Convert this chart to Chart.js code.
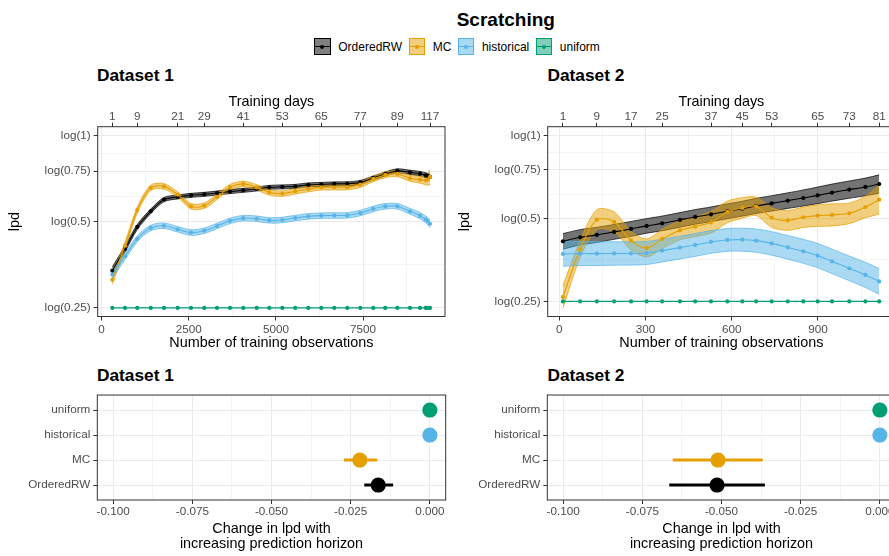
<!DOCTYPE html>
<html>
<head>
<meta charset="utf-8">
<script src="https://cdn.jsdelivr.net/npm/chart.js@4.4.1/dist/chart.umd.min.js"></script>
<style>
  html, body { margin: 0; padding: 0; background: #fff; }
  body { width: 889px; height: 556px; overflow: hidden; position: relative;
         font-family: "Liberation Sans", Arial, Helvetica, sans-serif; }
  canvas { position: absolute; }
  .txt { position: absolute; white-space: nowrap; color: #000; }
  .main { font-weight: bold; font-size: 19px; line-height: 22px; }
  .sub { font-weight: bold; font-size: 17.3px; line-height: 20px; }
  #legend { position: absolute; left: 314.3px; top: 38.3px; height: 16.7px;
            display: flex; align-items: center; font-size: 12px; color: #000; }
  .key { position: relative; box-sizing: border-box; width: 16.4px; height: 16.7px;
         border: 1px solid; margin-right: 7.6px; }
  .key .ln { position: absolute; left: 0; right: 0; top: 6.85px; height: 1px; }
  .key .pt { position: absolute; left: 5.2px; top: 5.35px; width: 4px; height: 4px; border-radius: 50%; }
  .lab { margin-right: 6.6px; }
</style>
</head>
<body>
<div class="txt main" style="left:456.7px; top:9px;">Scratching</div>
<div id="legend"></div>

<div class="txt sub" style="left:97px; top:65px;">Dataset 1</div>
<div class="txt sub" style="left:547.5px; top:65px;">Dataset 2</div>
<div class="txt sub" style="left:97px; top:365px;">Dataset 1</div>
<div class="txt sub" style="left:547.5px; top:365px;">Dataset 2</div>

<canvas id="top1" width="456" height="274" style="left:0px; top:86px;"></canvas>
<canvas id="top2" width="456" height="274" style="left:450px; top:86px;"></canvas>
<canvas id="bot1" width="456" height="171" style="left:0px; top:385px;"></canvas>
<canvas id="bot2" width="456" height="171" style="left:450px; top:385px;"></canvas>

<script>
// ---- series names and colours ----
const seriesNames = ['OrderedRW', 'MC', 'historical', 'uniform'];
const seriesColors = ['#000000', '#E69F00', '#56B4E9', '#009E73'];

// ---- Dataset 1: lpd by number of training observations ----
const obs1 = [310, 674, 1026, 1411, 1792, 2185, 2566, 2947, 3311, 3684, 4065, 4450, 4811, 5184,
              5556, 5929, 6302, 6674, 7047, 7420, 7792, 8136, 8481, 8845, 9131, 9295, 9352, 9418];
const dayTickIdx1 = [0, 2, 5, 7, 10, 13, 16, 19, 22, 27];
const dayTickLabels1 = ['1', '9', '21', '29', '41', '53', '65', '77', '89', '117'];

const ordered1 = [-1.087, -0.912, -0.736, -0.610, -0.516, -0.495, -0.482, -0.474, -0.463, -0.452,
                  -0.442, -0.431, -0.418, -0.414, -0.410, -0.398, -0.394, -0.390, -0.389, -0.378,
                  -0.342, -0.310, -0.286, -0.297, -0.308, -0.321, -0.326, -0.334];
const ordered1Ci = [0.030, 0.024, 0.020, 0.018, 0.017, 0.016, 0.016, 0.016, 0.016, 0.016,
                    0.016, 0.016, 0.016, 0.016, 0.016, 0.016, 0.016, 0.016, 0.016, 0.016,
                    0.016, 0.016, 0.017, 0.017, 0.018, 0.020, 0.021, 0.022];
const mc1 = [-1.160, -0.886, -0.600, -0.422, -0.410, -0.476, -0.570, -0.565, -0.494, -0.416,
             -0.390, -0.418, -0.458, -0.468, -0.450, -0.431, -0.418, -0.417, -0.416, -0.396,
             -0.350, -0.318, -0.310, -0.345, -0.356, -0.361, -0.356, -0.334];
const mc1Ci = [0.036, 0.028, 0.024, 0.022, 0.022, 0.022, 0.022, 0.022, 0.022, 0.022,
               0.022, 0.022, 0.022, 0.022, 0.022, 0.022, 0.022, 0.022, 0.022, 0.022,
               0.022, 0.022, 0.022, 0.024, 0.028, 0.036, 0.046, 0.060];
const hist1 = [-1.119, -0.972, -0.831, -0.744, -0.726, -0.755, -0.781, -0.766, -0.728, -0.687,
               -0.665, -0.670, -0.683, -0.680, -0.664, -0.651, -0.645, -0.644, -0.643, -0.624,
               -0.591, -0.570, -0.570, -0.610, -0.645, -0.675, -0.688, -0.710];
const hist1Ci = [0.030, 0.026, 0.023, 0.022, 0.022, 0.022, 0.022, 0.022, 0.022, 0.022,
                 0.022, 0.022, 0.022, 0.022, 0.022, 0.022, 0.022, 0.022, 0.022, 0.022,
                 0.022, 0.022, 0.022, 0.023, 0.025, 0.027, 0.029, 0.031];
const uniform1 = [-1.386, -1.386, -1.386, -1.386, -1.386, -1.386, -1.386, -1.386, -1.386, -1.386,
                  -1.386, -1.386, -1.386, -1.386, -1.386, -1.386, -1.386, -1.386, -1.386, -1.386,
                  -1.386, -1.386, -1.386, -1.386, -1.386, -1.386, -1.386, -1.386];

// ---- Dataset 2 ----
const obs2 = [13, 73, 131, 191, 250, 304, 358, 420, 473, 528, 585, 637, 685, 739, 795, 849, 899,
              949, 1009, 1065, 1113];
const dayTickIdx2 = [0, 2, 4, 6, 9, 11, 13, 16, 18, 20];
const dayTickLabels2 = ['1', '9', '17', '25', '37', '45', '53', '65', '73', '81'];

const ordered2 = [-0.885, -0.851, -0.831, -0.806, -0.781, -0.756, -0.735, -0.706, -0.681, -0.659,
                  -0.634, -0.612, -0.589, -0.568, -0.545, -0.523, -0.501, -0.478, -0.453, -0.431,
                  -0.406];
const ordered2Ci = [0.065, 0.064, 0.063, 0.062, 0.062, 0.061, 0.061, 0.061, 0.061, 0.061, 0.062,
                    0.062, 0.063, 0.064, 0.065, 0.067, 0.069, 0.071, 0.072, 0.074, 0.076];
const mc2 = [-1.349, -0.948, -0.704, -0.723, -0.879, -0.940, -0.865, -0.793, -0.762, -0.726,
             -0.639, -0.606, -0.593, -0.687, -0.710, -0.684, -0.670, -0.664, -0.651, -0.598,
             -0.537];
const mc2Ci = [0.095, 0.070, 0.083, 0.083, 0.077, 0.075, 0.081, 0.079, 0.083, 0.090, 0.090,
               0.086, 0.077, 0.081, 0.083, 0.085, 0.090, 0.092, 0.086, 0.090, 0.121];
const hist2 = [-0.990, -0.987, -0.987, -0.986, -0.986, -0.982, -0.962, -0.937, -0.915, -0.890,
               -0.873, -0.871, -0.879, -0.902, -0.935, -0.968, -1.004, -1.052, -1.110, -1.165,
               -1.219];
const hist2Ci = [0.103, 0.100, 0.099, 0.098, 0.097, 0.096, 0.095, 0.095, 0.095, 0.095, 0.095,
                 0.096, 0.097, 0.098, 0.099, 0.100, 0.101, 0.102, 0.103, 0.105, 0.107];
const uniform2 = [-1.386, -1.386, -1.386, -1.386, -1.386, -1.386, -1.386, -1.386, -1.386, -1.386,
                  -1.386, -1.386, -1.386, -1.386, -1.386, -1.386, -1.386, -1.386, -1.386, -1.386,
                  -1.386];

// ---- lpd axis ticks (probabilities shown as log(p)) ----
const lpdTickProbs = [0.25, 0.5, 0.75, 1];

// ---- change in lpd with increasing prediction horizon ----
const slopeCats = ['OrderedRW', 'MC', 'historical', 'uniform'];   // bottom to top
const slope1 = [-0.0163, -0.0221, 0, 0];
const slope1Lo = [-0.0207, -0.0271, 0, 0];
const slope1Hi = [-0.0116, -0.0166, 0, 0];
const slope2 = [-0.0514, -0.0511, 0, 0];
const slope2Lo = [-0.0665, -0.0654, 0, 0];
const slope2Hi = [-0.0363, -0.0370, 0, 0];
const slopeTicks = [-0.1, -0.075, -0.05, -0.025, 0];
const slopeMinor = [-0.0875, -0.0625, -0.0375, -0.0125];

// ---------------------------------------------------------------------
const FONT = '"Liberation Sans", Arial, Helvetica, sans-serif';
const TICK_FONT = { family: FONT, size: 11.7 };
const TITLE_FONT = { family: FONT, size: 14.4 };
const TICK_COLOR = '#4D4D4D';
const GRID = '#EBEBEB';

function rgba(hex, a) {
  const n = parseInt(hex.slice(1), 16);
  return `rgba(${(n >> 16) & 255},${(n >> 8) & 255},${n & 255},${a})`;
}

// legend
(function buildLegend() {
  const lg = document.getElementById('legend');
  seriesNames.forEach((name, i) => {
    const c = seriesColors[i];
    const key = document.createElement('div');
    key.className = 'key';
    key.style.borderColor = c;
    key.style.background = rgba(c, i === 0 ? 0.5 : 0.5);
    key.innerHTML = `<div class="ln" style="background:${c}"></div><div class="pt" style="background:${c}"></div>`;
    const lab = document.createElement('span');
    lab.className = 'lab';
    lab.textContent = name;
    lg.appendChild(key);
    lg.appendChild(lab);
  });
})();

// frame drawn round the plotting area
const panelBorder = {
  id: 'panelBorder',
  afterDatasetsDraw(chart) {
    const { ctx, chartArea: a } = chart;
    ctx.save();
    ctx.strokeStyle = '#333333';
    ctx.lineWidth = 1;
    ctx.strokeRect(a.left, a.top, a.right - a.left, a.bottom - a.top);
    ctx.restore();
  }
};

function tickList(majors, minors) {
  const t = majors.map(v => ({ value: v, minor: false }))
    .concat(minors.map(v => ({ value: v, minor: true })));
  t.sort((a, b) => a.value - b.value);
  return t;
}
const gridWidth = c => (c.tick && c.tick.minor ? 0.5 : 1);
const gridTick = c => (c.tick && c.tick.minor ? 'rgba(0,0,0,0)' : '#333333');

function midpoints(v) {
  const out = [];
  for (let i = 0; i < v.length - 1; i++) out.push((v[i] + v[i + 1]) / 2);
  return out;
}

function lpdPanel(id, obs, series, xMin, xMax, xMajors, xMinors, dayIdx, dayLabels, yMin, yMax) {
  const datasets = [];
  // ribbons first (drawn underneath)
  series.forEach((s, k) => {
    if (!s.ci) return;
    const lo = obs.map((x, i) => ({ x, y: s.mean[i] - s.ci[i] }));
    const hi = obs.map((x, i) => ({ x, y: s.mean[i] + s.ci[i] }));
    datasets.push({ data: lo, borderColor: s.color, borderWidth: 0.7, pointRadius: 0,
                    fill: false, tension: 0.3, order: 20 - k });
    datasets.push({ data: hi, borderColor: s.color, borderWidth: 0.7, pointRadius: 0,
                    fill: '-1', backgroundColor: rgba(s.color, k === 0 ? 0.55 : 0.5),
                    tension: 0.3, order: 20 - k });
  });
  // fitted lines with points
  series.forEach((s, k) => {
    datasets.push({ data: obs.map((x, i) => ({ x, y: s.mean[i] })), borderColor: s.color,
                    backgroundColor: s.color, borderWidth: 1.1, pointRadius: 2.1,
                    pointBorderWidth: 0, pointBackgroundColor: s.color, fill: false,
                    tension: 0.3, order: 5 - k });
  });

  const lpdMajors = lpdTickProbs.map(p => Math.log(p));
  const lpdMinors = midpoints(lpdMajors);

  return new Chart(document.getElementById(id), {
    type: 'line',
    data: { datasets },
    plugins: [panelBorder],
    options: {
      responsive: false, animation: false, events: [],
      layout: { padding: { left: 0, top: 0, right: 11, bottom: 0 } },
      plugins: { legend: { display: false }, tooltip: { enabled: false } },
      scales: {
        x: {
          type: 'linear', position: 'bottom', min: xMin, max: xMax, bounds: 'data',
          afterBuildTicks: ax => { ax.ticks = tickList(xMajors, xMinors); },
          afterFit: ax => { ax.height = 43.5; },
          ticks: { autoSkip: false, maxRotation: 0, padding: 2, font: TICK_FONT, color: TICK_COLOR,
                   callback: (v, i, t) => (t[i].minor ? '' : String(v)) },
          grid: { color: GRID, lineWidth: gridWidth, tickColor: gridTick, tickLength: 4, tickWidth: 1 },
          border: { display: false },
          title: { display: true, text: 'Number of training observations', font: TITLE_FONT,
                   color: '#000', padding: { top: 0, bottom: 8 } }
        },
        days: {
          type: 'linear', position: 'top', min: xMin, max: xMax, bounds: 'data',
          afterBuildTicks: ax => { ax.ticks = dayIdx.map(i => ({ value: obs[i] })); },
          afterFit: ax => { ax.height = 40.7; },
          ticks: { autoSkip: false, maxRotation: 0, padding: -1, font: TICK_FONT, color: TICK_COLOR,
                   callback: (v, i) => dayLabels[i] },
          grid: { drawOnChartArea: false, tickColor: '#333333', tickLength: 4, tickWidth: 1 },
          border: { display: false },
          title: { display: true, text: 'Training days', font: TITLE_FONT, color: '#000',
                   padding: { top: 7, bottom: 0 } }
        },
        y: {
          type: 'linear', position: 'left', min: yMin, max: yMax, bounds: 'data',
          afterBuildTicks: ax => { ax.ticks = tickList(lpdMajors, lpdMinors); },
          afterFit: ax => { ax.width = 97.7; },
          ticks: { autoSkip: false, padding: 3, font: TICK_FONT, color: TICK_COLOR,
                   callback: (v, i, t) => {
                     if (t[i].minor) return '';
                     const k = lpdMajors.findIndex(m => Math.abs(m - v) < 1e-9);
                     return `log(${lpdTickProbs[k]})`;
                   } },
          grid: { color: GRID, lineWidth: gridWidth, tickColor: gridTick, tickLength: 4, tickWidth: 1 },
          border: { display: false },
          title: { display: true, text: 'lpd', font: TITLE_FONT, color: '#000',
                   padding: { top: 6.4, bottom: 0 } }
        }
      }
    }
  });
}

function slopePanel(id, est, lo, hi) {
  const datasets = [];
  slopeCats.forEach((c, k) => {
    const color = seriesColors[seriesNames.indexOf(c)];
    if (lo[k] !== hi[k]) {
      datasets.push({ data: [{ x: lo[k], y: k + 1 }, { x: hi[k], y: k + 1 }], showLine: true,
                      borderColor: color, borderWidth: 3.2, pointRadius: 0, order: 5 });
    }
    datasets.push({ data: [{ x: est[k], y: k + 1 }], pointRadius: 7.6, pointBorderWidth: 0,
                    backgroundColor: color, pointBackgroundColor: color, order: 0 });
  });
  return new Chart(document.getElementById(id), {
    type: 'scatter',
    data: { datasets },
    plugins: [panelBorder],
    options: {
      responsive: false, animation: false, events: [],
      layout: { padding: { left: 0, top: 7.3, right: 10.3, bottom: 0 } },
      plugins: { legend: { display: false }, tooltip: { enabled: false } },
      scales: {
        x: {
          type: 'linear', min: -0.105, max: 0.005, bounds: 'data',
          afterBuildTicks: ax => { ax.ticks = tickList(slopeTicks, slopeMinor); },
          afterFit: ax => { ax.height = 56; },
          ticks: { autoSkip: false, maxRotation: 0, padding: 1, font: TICK_FONT, color: TICK_COLOR,
                   callback: (v, i, t) => (t[i].minor ? '' : v.toFixed(3)) },
          grid: { color: GRID, lineWidth: gridWidth, tickColor: gridTick, tickLength: 4, tickWidth: 1 },
          border: { display: false },
          title: { display: true, text: ['Change in lpd with', 'increasing prediction horizon'],
                   font: { family: FONT, size: 14.4, lineHeight: 1.0625 }, color: '#000',
                   padding: { top: 0, bottom: 4 } }
        },
        y: {
          type: 'linear', min: 0.4, max: 4.6, bounds: 'data',
          afterBuildTicks: ax => { ax.ticks = slopeCats.map((c, k) => ({ value: k + 1 })); },
          afterFit: ax => { ax.width = 97.3; },
          ticks: { autoSkip: false, padding: 3, font: TICK_FONT, color: TICK_COLOR,
                   callback: (v, i) => slopeCats[i] },
          grid: { color: GRID, lineWidth: 1, tickColor: '#333333', tickLength: 4, tickWidth: 1 },
          border: { display: false }
        }
      }
    }
  });
}

lpdPanel('top1', obs1, [
  { mean: ordered1, ci: ordered1Ci, color: seriesColors[0] },
  { mean: mc1, ci: mc1Ci, color: seriesColors[1] },
  { mean: hist1, ci: hist1Ci, color: seriesColors[2] },
  { mean: uniform1, ci: null, color: seriesColors[3] }
], -109, 9848, [0, 2500, 5000, 7500], [1250, 3750, 6250, 8750],
   dayTickIdx1, dayTickLabels1, -1.455, 0.0693);

lpdPanel('top2', obs2, [
  { mean: ordered2, ci: ordered2Ci, color: seriesColors[0] },
  { mean: mc2, ci: mc2Ci, color: seriesColors[1] },
  { mean: hist2, ci: hist2Ci, color: seriesColors[2] },
  { mean: uniform2, ci: null, color: seriesColors[3] }
], -40, 1168, [0, 300, 600, 900], [150, 450, 750, 1050],
   dayTickIdx2, dayTickLabels2, -1.512, 0.072);

slopePanel('bot1', slope1, slope1Lo, slope1Hi);
slopePanel('bot2', slope2, slope2Lo, slope2Hi);
</script>
</body>
</html>
